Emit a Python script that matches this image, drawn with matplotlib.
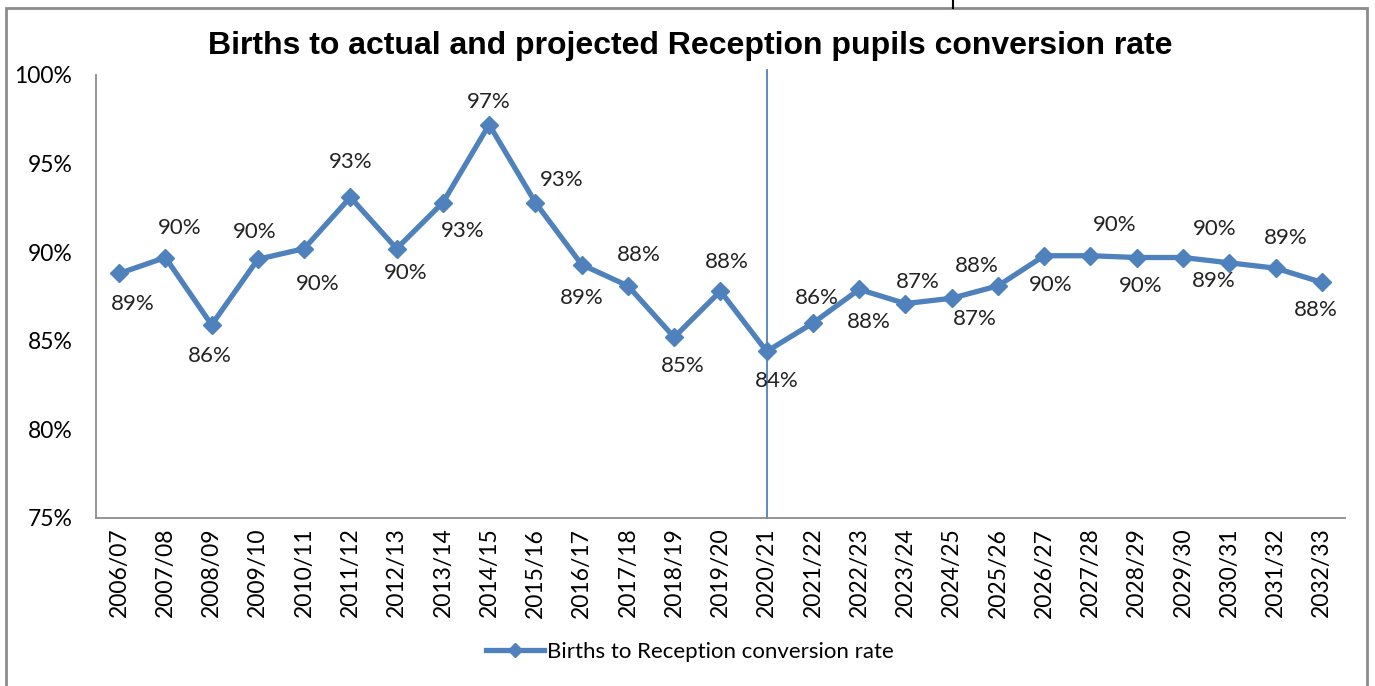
import matplotlib
matplotlib.use("Agg")
import matplotlib.pyplot as plt
from matplotlib.lines import Line2D
from matplotlib.patches import Rectangle

# data
years = ["2006/07", "2007/08", "2008/09", "2009/10", "2010/11", "2011/12", "2012/13",
         "2013/14", "2014/15", "2015/16", "2016/17", "2017/18", "2018/19", "2019/20",
         "2020/21", "2021/22", "2022/23", "2023/24", "2024/25", "2025/26", "2026/27",
         "2027/28", "2028/29", "2029/30", "2030/31", "2031/32", "2032/33"]
rate = [88.8, 89.7, 85.9, 89.6, 90.2, 93.1, 90.2, 92.8, 97.2, 92.8, 89.3, 88.1, 85.2,
        87.8, 84.4, 86.0, 87.9, 87.1, 87.4, 88.1, 89.8, 89.8, 89.7, 89.7, 89.4, 89.1, 88.3]
split_year = "2020/21"

# label offsets (pixels) to mimic Excel label placement
lab_off = [(14, -31), (14, 30), (-2, -31), (-3, 27), (14, -35), (0, 35), (9, -24),
           (20, -28), (0, 23), (26, 23), (0, -33), (11, 31), (9, -29), (6, 29),
           (10, -30), (4, 25), (10, -33), (12, 22), (23, -21), (-21, 20), (6, -29),
           (24, 31), (4, -28), (32, 29), (-15, -18), (10, 30), (-6, -28)]

blue = "#4F81BD"
fig = plt.figure(figsize=(13.75, 6.86), dpi=100)
ax = fig.add_axes([0.0698, 0.2449, 0.9083, 0.6458])

x = list(range(len(years)))
ax.plot(x, rate, color=blue, lw=3.8, marker="D", ms=9, mec=blue, mfc=blue, zorder=3,
        label="Births to Reception conversion rate")
for xi, v, (dx, dy) in zip(x, rate, lab_off):
    ax.annotate("%d%%" % round(v), (xi, v), xytext=(dx, dy), textcoords="offset pixels",
                ha="center", va="center", fontsize=16, family="Lato", color="#222222")

xs = years.index(split_year)
ax.plot([xs, xs], [75, 100.3], color=blue, lw=1.3, clip_on=False, zorder=2)

ax.set_xlim(-0.5, len(years) - 0.5)
ax.set_ylim(75, 100)
ax.set_yticks([75, 80, 85, 90, 95, 100])
ax.set_yticklabels(["75%", "80%", "85%", "90%", "95%", "100%"], family="Lato", fontsize=16.5)
ax.set_xticks(x)
ax.set_xticklabels(years, rotation=90, family="Lato", fontsize=16.5)
ax.tick_params(axis="y", length=0, pad=17)
ax.tick_params(axis="x", length=0, pad=7)
for s in ["top", "right"]:
    ax.spines[s].set_visible(False)
for s in ["left", "bottom"]:
    ax.spines[s].set_color("#8c8c8c")
    ax.spines[s].set_linewidth(1.3)

fig.text(0.502, 0.933, "Births to actual and projected Reception pupils conversion rate",
         ha="center", va="center", fontsize=23, fontweight="bold", family="Liberation Sans")

leg_line = Line2D([], [], color=blue, lw=3.8, marker="D", ms=7)
fig.legend([leg_line], ["Births to Reception conversion rate"], loc="center",
           bbox_to_anchor=(0.502, 0.05), frameon=False, prop={"family": "Lato", "size": 16},
           handlelength=2.6, handletextpad=0.15)

# outer chart frame
fig.add_artist(Rectangle((0.0044, -0.05), 0.9898, 1.038, transform=fig.transFigure,
                         fill=False, ec="#8c8c8c", lw=2))
fig.add_artist(Line2D([0.693, 0.693], [0.988, 1.0], transform=fig.transFigure,
                      color="black", lw=1.5))

fig.savefig("out.png", dpi=100)
